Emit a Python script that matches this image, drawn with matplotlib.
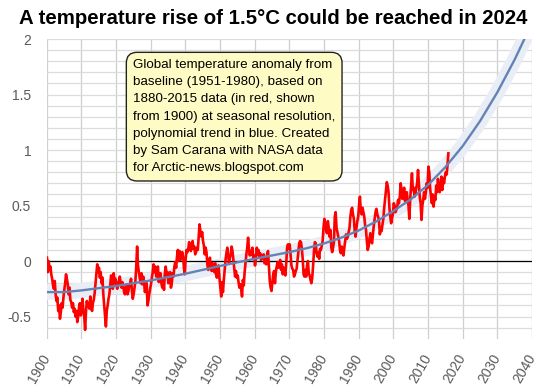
import numpy as np
import matplotlib
matplotlib.use("Agg")
import matplotlib.pyplot as plt

# seasonal temperature anomaly (°C vs 1951-1980), 4 values per year, 1900-2015
anomaly = [
    0.03, -0.10, 0.00, -0.08,    -0.05, -0.12, -0.16, -0.22,   -0.25, -0.18, -0.30, -0.36,
    -0.33, -0.45, -0.40, -0.52,  -0.46, -0.38, -0.42, -0.33,   -0.26, -0.20, -0.12, -0.16,
    -0.21, -0.30, -0.24, -0.35,  -0.37, -0.42, -0.38, -0.46,   -0.43, -0.50, -0.45, -0.55,
    -0.50, -0.42, -0.38, -0.49,
    # 1910s
    -0.45, -0.34, -0.44, -0.50,  -0.62, -0.46, -0.36, -0.41,   -0.38, -0.43, -0.32, -0.41,
    -0.45, -0.38, -0.35, -0.29,  -0.20, -0.12, -0.03, -0.10,   -0.06, -0.15, -0.10, -0.20,
    -0.15, -0.30, -0.40, -0.49,  -0.59, -0.45, -0.40, -0.34,   -0.30, -0.21, -0.13, -0.20,
    -0.25, -0.11, -0.20, -0.16,
    # 1920s
    -0.20, -0.25, -0.22, -0.18,  -0.14, -0.20, -0.24, -0.19,   -0.22, -0.28, -0.30, -0.25,
    -0.21, -0.30, -0.27, -0.22,  -0.20, -0.16, -0.27, -0.34,   -0.30, -0.24, -0.18, -0.05,
    0.13, -0.04, -0.10, -0.15,   -0.20, -0.11, -0.21, -0.14,   -0.19, -0.28, -0.24, -0.20,
    -0.40, -0.36, -0.30, -0.25,
    # 1930s
    -0.21, -0.15, -0.10, -0.03,  -0.10, -0.05, -0.14, -0.09,   -0.05, -0.19, -0.15, -0.11,
    -0.20, -0.24, -0.16, -0.26,  -0.11, -0.05, -0.14, -0.10,   -0.20, -0.15, -0.10, -0.24,
    -0.20, -0.11, -0.14, -0.05,  -0.01, -0.06, 0.04, 0.10,     0.00, 0.09, 0.01, 0.05,
    0.08, 0.04, -0.06, -0.12,
    # 1940s
    0.02, 0.10, 0.08, 0.11,      0.17, 0.12, 0.09, 0.14,       0.18, 0.11, 0.13, 0.06,
    0.08, 0.12, 0.10, 0.22,      0.33, 0.27, 0.22, 0.26,       0.18, 0.14, 0.06, 0.12,
    0.08, -0.03, -0.08, -0.02,   0.03, -0.06, -0.09, -0.02,    -0.05, -0.10, -0.02, -0.12,
    -0.15, -0.09, -0.04, -0.16,
    # 1950s
    -0.24, -0.32, -0.19, -0.28,  -0.17, -0.08, 0.01, 0.07,     0.12, 0.05, -0.02, 0.03,
    0.06, 0.13, 0.09, 0.01,      -0.08, -0.14, -0.09, -0.15,   -0.13, -0.19, -0.24, -0.21,
    -0.25, -0.32, -0.17, -0.22,  -0.10, -0.02, 0.06, 0.12,     0.21, 0.11, 0.05, 0.09,
    0.06, 0.12, 0.02, 0.05,
    # 1960s
    -0.04, 0.02, 0.12, 0.06,     0.10, 0.04, 0.07, 0.01,       0.04, 0.02, 0.06, -0.02,
    0.01, -0.03, 0.06, 0.09,     -0.05, -0.18, -0.24, -0.27,   -0.19, -0.12, -0.09, -0.20,
    -0.10, -0.05, -0.01, -0.06,  -0.04, 0.01, -0.08, -0.03,    -0.12, -0.06, -0.09, -0.13,
    -0.02, 0.12, 0.15, 0.11,
    # 1970s
    0.15, 0.06, -0.04, -0.07,    -0.08, -0.14, -0.12, -0.09,   -0.07, 0.01, 0.10, 0.16,
    0.18, 0.17, 0.11, 0.02,      -0.12, -0.14, -0.08, -0.14,   -0.04, 0.00, -0.11, -0.13,
    -0.17, -0.20, -0.15, -0.04,  0.09, 0.17, 0.16, 0.07,       0.04, 0.08, 0.02, 0.11,
    0.10, 0.14, 0.18, 0.30,
    # 1980s
    0.38, 0.30, 0.28, 0.25,      0.36, 0.30, 0.22, 0.28,       0.12, 0.08, 0.12, 0.17,
    0.40, 0.44, 0.30, 0.26,      0.22, 0.18, 0.10, 0.07,       0.13, 0.08, 0.05, 0.12,
    0.18, 0.24, 0.20, 0.22,      0.26, 0.30, 0.40, 0.46,       0.48, 0.42, 0.38, 0.27,
    0.22, 0.30, 0.36, 0.40,
    # 1990s
    0.50, 0.58, 0.45, 0.42,      0.48, 0.44, 0.40, 0.32,       0.28, 0.18, 0.10, 0.13,
    0.20, 0.25, 0.18, 0.16,      0.24, 0.32, 0.38, 0.44,       0.47, 0.42, 0.40, 0.36,
    0.24, 0.30, 0.27, 0.33,      0.38, 0.48, 0.56, 0.64,       0.71, 0.68, 0.62, 0.48,
    0.40, 0.34, 0.38, 0.42,
    # 2000s
    0.52, 0.50, 0.44, 0.46,      0.48, 0.55, 0.52, 0.58,       0.70, 0.64, 0.56, 0.60,
    0.66, 0.54, 0.58, 0.62,      0.55, 0.50, 0.38, 0.56,       0.68, 0.79, 0.64, 0.66,
    0.58, 0.60, 0.66, 0.70,      0.82, 0.70, 0.58, 0.52,       0.37, 0.50, 0.55, 0.62,
    0.56, 0.62, 0.70, 0.66,
    # 2010s
    0.85, 0.80, 0.65, 0.58,      0.52, 0.60, 0.49, 0.58,       0.55, 0.68, 0.62, 0.74,
    0.65, 0.62, 0.66, 0.76,      0.64, 0.74, 0.70, 0.76,       0.80, 0.78, 0.86, 0.97,
]
start_year = 1900

# polynomial trend (blue), read every 5 years
trend_years = list(range(1900, 2041, 5))
trend_values = [-0.28, -0.28, -0.265, -0.245, -0.225, -0.2, -0.175, -0.145, -0.115,
                -0.08, -0.045, -0.012, 0.02, 0.05, 0.08, 0.115, 0.158, 0.21, 0.275,
                0.355, 0.45, 0.555, 0.685, 0.845, 1.035, 1.26, 1.52, 1.815, 2.145]

x_ticks = list(range(1900, 2041, 10))
y_ticks = [-0.5, 0, 0.5, 1, 1.5, 2]
y_labels = ["-0.5", "0", "0.5", "1", "1.5", "2"]

title = "A temperature rise of 1.5°C could be reached in 2024"
note = ("Global temperature anomaly from\n"
        "baseline (1951-1980), based on\n"
        "1880-2015 data (in red, shown\n"
        "from 1900) at seasonal resolution,\n"
        "polynomial trend in blue. Created\n"
        "by Sam Carana with NASA data\n"
        "for Arctic-news.blogspot.com")

plt.rcParams["font.family"] = ["Liberation Sans", "DejaVu Sans"]

fig = plt.figure(figsize=(5.46, 3.90), dpi=100)
ax = fig.add_axes([0.0852, 0.1315, 0.8892, 0.7685])

t = start_year + (np.arange(len(anomaly)) + 0.5) / 4

# glow around trend, then data, then trend line
ax.plot(trend_years, trend_values, color="#e9eef6", lw=11, solid_capstyle="butt", zorder=2)
ax.axhline(0, color="black", lw=0.9, zorder=2.5)
ax.plot(t, anomaly, color="#ff0000", lw=1.9, zorder=3)
ax.plot(trend_years, trend_values, color="#6483b4", lw=1.7, zorder=4)

ax.set_xlim(1900, 2040)
ax.set_ylim(-0.7, 2)
ax.set_xticks(x_ticks)
ax.set_xticklabels([str(x) for x in x_ticks], rotation=60, ha="right",
                   va="center", rotation_mode="anchor")
ax.set_yticks(y_ticks)
ax.set_yticklabels(y_labels)
ax.set_yticks(np.arange(-6, 21) / 10, minor=True)
ax.tick_params(axis="both", which="both", length=0, labelsize=10, labelcolor="#595959")
ax.tick_params(axis="y", pad=11)
ax.tick_params(axis="x", pad=12)

ax.grid(axis="x", color="#cfcfcf", lw=0.9, zorder=0)
ax.grid(axis="y", which="both", color="#dcdcdc", lw=0.9, zorder=0)
ax.set_axisbelow(True)
for s in ax.spines.values():
    s.set_visible(False)

fig.text(0.5, 1 - 24.5 / 390, title, ha="center", va="baseline",
         fontsize=14.7, fontweight="bold", color="black")

fig.text(133 / 546, 1 - 59 / 390, note, ha="left", va="top", fontsize=9.6,
         linespacing=1.58, color="black", zorder=10,
         bbox=dict(boxstyle="round,pad=0.5,rounding_size=0.8", fc="#fffbc4",
                   ec="#222222", lw=1.0))

fig.savefig("out.png", dpi=100)
